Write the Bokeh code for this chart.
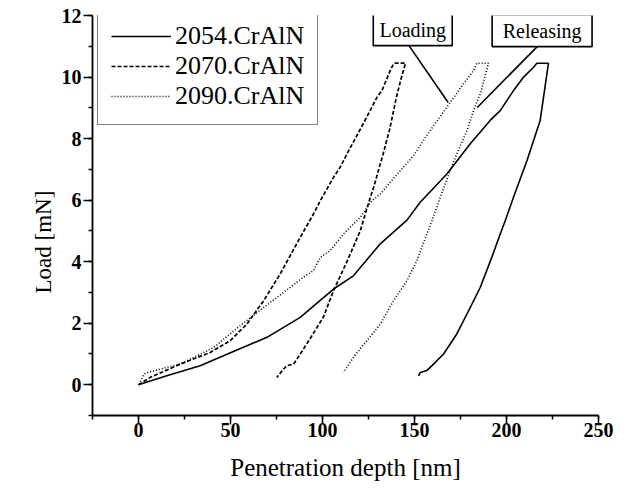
import numpy as np
from bokeh.plotting import figure
from bokeh.models import Range1d, SingleIntervalTicker, Legend, LegendItem, Title
from bokeh.embed import file_html
from bokeh.resources import INLINE
from bokeh.core.properties import value

# ---- data ----
series_names = ["2054.CrAlN", "2070.CrAlN", "2090.CrAlN"]

x2054 = [0, 15.4, 33.5, 51.6, 69.8, 87.9, 97, 106, 116.8, 131.4, 145.9, 153.1, 167.6, 180.3,
         191.1, 196.6, 203.8, 209.2, 214.7, 216.5, 222.8, 220.5, 218.3, 211.1, 203.8, 199.3,
         196.6, 192, 185.7, 180.3, 173, 165.8, 159.5, 156.7, 153.1, 152.2]
y2054 = [0, 0.29, 0.62, 1.08, 1.54, 2.19, 2.65, 3.11, 3.54, 4.58, 5.35, 5.93, 6.85, 7.83,
         8.59, 8.91, 9.56, 9.99, 10.32, 10.45, 10.45, 9.5, 8.59, 7.28, 6.09, 5.33,
         4.9, 4.14, 3.16, 2.51, 1.65, 1.0, 0.62, 0.46, 0.4, 0.29]

x2070 = [0, 6.4, 22.7, 39, 49.8, 58.9, 68, 77, 82.5, 87.9, 95.1, 98.8, 106, 109.6, 113.3, 122.3,
         129.6, 132.3, 136.8, 138.6, 139.5, 145.1, 142.5, 140, 136.5, 132.5, 131, 128, 125,
         120.5, 113.5, 106, 100.5, 93.3, 87.9, 84.3, 80.6, 78, 75.2]
y2070 = [0, 0.24, 0.67, 1.05, 1.43, 1.97, 2.73, 3.6, 4.2, 4.79, 5.55, 5.98, 6.74, 7.07, 7.5, 8.5,
         9.34, 9.56, 10.21, 10.43, 10.45, 10.45, 9.9, 9.3, 8.3, 7.4, 7.1, 6.45, 5.9,
         5.0, 4.03, 3.06, 2.2, 1.5, 1.0, 0.67, 0.62, 0.45, 0.24]

x2090 = [1, 3, 8, 22.7, 40.8, 55.3, 68, 82.4, 87.9, 95.1, 98.8, 104.2, 111.4, 120.5, 126.8, 131.4,
         140, 149.5, 158.5, 167.6, 176.6, 182, 183.9, 190.2, 186.0, 182.1, 178.5, 173,
         169.4, 164, 159.5, 156.7, 151.3, 145.9, 138.6, 131.4, 124.1, 116.8, 111.4]
y2090 = [0.1, 0.35, 0.45, 0.67, 1.21, 1.92, 2.51, 3.16, 3.42, 3.71, 4.14, 4.36, 4.9, 5.44, 5.98, 6.2,
         6.8, 7.45, 8.26, 9.02, 9.78, 10.2, 10.45, 10.45, 9.5, 8.91, 8.26, 7.5,
         6.96, 6.09, 5.33, 4.9, 4.03, 3.38, 2.73, 1.97, 1.43, 0.89, 0.4]

ann_labels = ["Loading", "Releasing"]
ann_box_left = [127.6, 192.2]
ann_box_right = [170.5, 246.5]
ann_box_top = [12.07, 12.03]
ann_box_bottom = [11.02, 10.99]
ann_line_x0 = [147.0, 216.7]
ann_line_y0 = [11.02, 10.99]
ann_line_x1 = [168.3, 184.1]
ann_line_y1 = [9.17, 9.01]

x_ticks_interval = 50
y_ticks_interval = 2

SERIF = "Liberation Serif"

p = figure(width=639, height=488, x_range=Range1d(-25, 250), y_range=Range1d(-1, 12),
           output_backend="svg", toolbar_location=None,
           min_border_left=92, min_border_top=15, min_border_right=41, min_border_bottom=73)
p.outline_line_color = None
p.grid.visible = False
p.background_fill_color = "white"
p.border_fill_color = "white"

r1 = p.line(x2054, y2054, line_color="black", line_width=1.6)
r2 = p.line(x2070, y2070, line_color="black", line_width=1.7, line_dash="4 2")
r3 = p.line(x2090, y2090, line_color="black", line_width=1.6, line_dash="1 2")

# annotation leader lines and boxes
p.segment(x0=ann_line_x0, y0=ann_line_y0, x1=ann_line_x1, y1=ann_line_y1,
          line_color="black", line_width=1.6)
p.quad(left=ann_box_left, right=ann_box_right, top=ann_box_top, bottom=ann_box_bottom,
       fill_color="white", line_color="black", line_width=1.6)
p.text(x=[(a + b) / 2 for a, b in zip(ann_box_left, ann_box_right)],
       y=[(a + b) / 2 for a, b in zip(ann_box_top, ann_box_bottom)],
       text=ann_labels, text_font=value(SERIF), text_font_size="20px",
       text_align="center", text_baseline="middle", text_color="black")

# axes
p.xaxis.ticker = SingleIntervalTicker(interval=x_ticks_interval, num_minor_ticks=2)
p.yaxis.ticker = SingleIntervalTicker(interval=y_ticks_interval, num_minor_ticks=2)
for ax in (p.xaxis, p.yaxis):
    ax.axis_line_width = 1.8
    ax.axis_line_color = "black"
    ax.major_tick_in = 0
    ax.major_tick_out = 9
    ax.minor_tick_in = 0
    ax.minor_tick_out = 4
    ax.major_tick_line_width = 1.5
    ax.minor_tick_line_width = 1.5
    ax.major_tick_line_color = "black"
    ax.minor_tick_line_color = "black"
    ax.major_label_text_font = SERIF
    ax.major_label_text_font_size = "20px"
    ax.major_label_text_font_style = "bold"
    ax.major_label_text_color = "black"
    ax.axis_label_text_font = SERIF
    ax.axis_label_text_font_style = "normal"
    ax.axis_label_text_color = "black"
p.xaxis.major_label_standoff = -2
p.yaxis.major_label_standoff = 2
p.xaxis.axis_label = "Penetration depth [nm]"
p.xaxis.axis_label_text_font_size = "25px"
p.xaxis.axis_label_standoff = 14

# y label: sits below the frame centre in the reference, so use a side title
ytitle = Title(text="Load [mN]", align="left", offset=122, vertical_align="middle",
               text_font=SERIF, text_font_size="23px", text_font_style="normal",
               text_color="black", standoff=4)
p.add_layout(ytitle, "left")

legend = Legend(items=[LegendItem(label=series_names[0], renderers=[r1]),
                       LegendItem(label=series_names[1], renderers=[r2]),
                       LegendItem(label=series_names[2], renderers=[r3])],
                location=(5, 290))
legend.border_line_color = "black"
legend.border_line_width = 1.6
legend.background_fill_color = "white"
legend.background_fill_alpha = 1
legend.label_text_font = SERIF
legend.label_text_font_size = "26px"
legend.label_text_color = "black"
legend.glyph_width = 60
legend.glyph_height = 26
legend.label_height = 26
legend.spacing = 0
legend.padding = 13
legend.label_standoff = 4
legend.margin = 0
p.add_layout(legend)

open("out.html", "w").write(file_html(p, INLINE))
